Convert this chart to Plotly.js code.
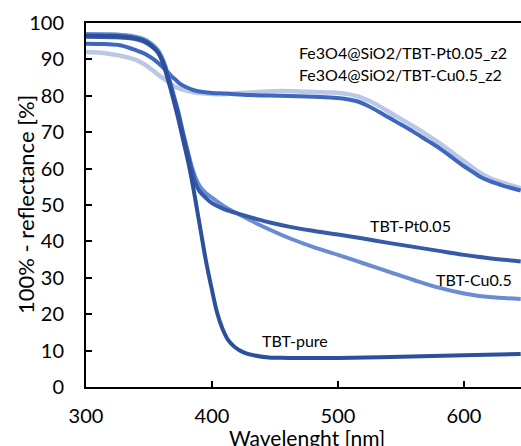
<!DOCTYPE html>
<html>
<head>
<meta charset="utf-8">
<script src="https://cdn.plot.ly/plotly-3.0.1.min.js"></script>
<style>
html,body{margin:0;padding:0;overflow:hidden;background:#fff;}
#chart{width:530px;height:450px;}
</style>
</head>
<body>
<div id="chart"></div>
<script>
// TBT-pure
const xPure = [300,320,335,345,352,357,361,365,369,373,377,381,385,388,391,395,400,404,408,413,418,425,433,445,460,500,550,600,645];
const yPure = [96.6,96.5,96.1,95.3,93.8,92,89,84.5,79.5,74,68,62,55,49,43,35,26.6,20.5,16.3,12.8,11,9.5,8.7,8.1,8.0,8.0,8.3,8.7,9.1];
// TBT-Pt0.05
const xPt = [300,320,335,345,352,357,361,365,369,373,377,381,384,387,390,395,400,410,422,435,446,462,480,500,520,540,560,580,600,620,645];
const yPt = [96.2,96.1,95.8,95.0,93.6,92,89.5,85.5,80.5,75.5,69.5,63.8,59.5,56,53.8,52,50.5,48.8,47.5,46.2,45.2,44,42.9,41.9,40.8,39.6,38.5,37.4,36.3,35.4,34.5];
// TBT-Cu0.5
const xCu = [300,320,335,345,352,357,361,365,369,373,377,381,384,387,390,395,400,410,422,435,446,462,480,500,520,540,560,580,600,620,645];
const yCu = [97.0,96.9,96.5,95.7,94.3,92.6,90,86,81,76,70,64.5,60.5,57.5,55.3,53.3,52,49.5,47.3,45,43.2,40.8,38.5,36.3,34,31.7,29.4,27.3,25.7,24.7,24.2];
// Fe3O4@SiO2/TBT-Pt0.05_z2
const xPtZ2 = [300,315,327,340,347,353,358,363.5,367,371.4,375,379.4,385,390,400,411,430,454,475,494,505,515,524,533,546,560,571,581,590,599,606,612,620,632,645];
const yPtZ2 = [94.3,94.2,93.9,92.5,91.5,90.2,88.8,87,85.7,84.3,83.2,82.4,81.6,81.2,80.8,80.6,80.2,80.0,79.8,79.5,79.2,78.5,77.2,75.5,72.9,70.1,67.7,65.5,63.2,60.9,59.3,57.9,56.6,55.2,54.0];
// Fe3O4@SiO2/TBT-Cu0.5_z2
const xCuZ2 = [300,315,326,340,347,353,358,363.5,368,374,380,385,395,406,420,440,454,475,494,505,515,524,533,546,560,571,581,590,599,606,612,620,632,645];
const yCuZ2 = [92.0,91.7,91.1,89.8,88.5,87,85.6,84.3,83,82,81.4,81,80.6,80.4,80.7,81.1,81.3,81.1,80.9,80.6,79.9,78.7,77.1,74.4,71.6,69.2,66.9,64.6,62.3,60.5,59.0,57.5,56.0,54.6];

const names = ["Fe3O4@SiO2/TBT-Cu0.5_z2","Fe3O4@SiO2/TBT-Pt0.05_z2","TBT-Cu0.5","TBT-Pt0.05","TBT-pure"];
const xTicks = [300,400,500,600];
const yTicks = [0,10,20,30,40,50,60,70,80,90,100];
const xTitle = 'Wavelenght [nm]';
const yTitle = '100% - reflectance [%]';

const FONT = "Lato, 'Open Sans', sans-serif";
function tr(x,y,name,color,w){
  return {x:x,y:y,name:name,type:'scatter',mode:'lines',
    line:{color:color,width:w,shape:'spline',smoothing:1},hoverinfo:'skip'};
}
const data = [
  tr(xCuZ2,yCuZ2,names[0],'#BBC7E6',4.5),
  tr(xPtZ2,yPtZ2,names[1],'#3F67BF',4),
  tr(xCu,yCu,names[2],'#6B8CD2',4),
  tr(xPt,yPt,names[3],'#3659A8',4),
  tr(xPure,yPure,names[4],'#2D509C',4)
];

const ann = (x,y,text)=>({x:x,y:y,xref:'x',yref:'y',text:text,showarrow:false,
  font:{family:FONT,size:16,color:'#000'},xanchor:'left',yanchor:'middle'});

const layout = {
  width:530,height:450,
  margin:{l:86,r:3,t:23,b:63},
  paper_bgcolor:'#fff',plot_bgcolor:'#fff',
  showlegend:false,
  font:{family:FONT,color:'#000'},
  xaxis:{range:[300,650],tickvals:xTicks,ticktext:xTicks.map(String),
    showgrid:false,zeroline:false,showline:true,linecolor:'#000',linewidth:2,mirror:true,
    ticks:'inside',ticklen:6,tickwidth:2,tickcolor:'#000',ticklabelstandoff:10,
    tickfont:{family:FONT,size:20,color:'#000'}},
  yaxis:{range:[0,100],tickvals:yTicks,ticktext:yTicks.map(String),
    showgrid:false,zeroline:false,showline:true,linecolor:'#000',linewidth:2,
    ticks:'inside',ticklen:6,tickwidth:2,tickcolor:'#000',ticklabelstandoff:16,
    tickfont:{family:FONT,size:20,color:'#000'}},
  annotations:[
    ann(467.5,91.8,names[1]),
    ann(467.5,85.8,names[0]),
    ann(523.5,44.3,names[3]),
    ann(576,29.6,names[2]),
    ann(438,12.7,names[4]),
    {x:0.5,y:-0.1,xref:'paper',yref:'paper',text:xTitle,showarrow:false,
      xanchor:'center',yanchor:'top',font:{family:FONT,size:21,color:'#000'}},
    {x:-0.1383,y:0.5,xref:'paper',yref:'paper',text:yTitle,showarrow:false,textangle:-90,
      xanchor:'center',yanchor:'middle',font:{family:FONT,size:22,color:'#000'}}
  ]
};
Plotly.newPlot('chart',data,layout,{displayModeBar:false,staticPlot:true});
</script>
</body>
</html>
